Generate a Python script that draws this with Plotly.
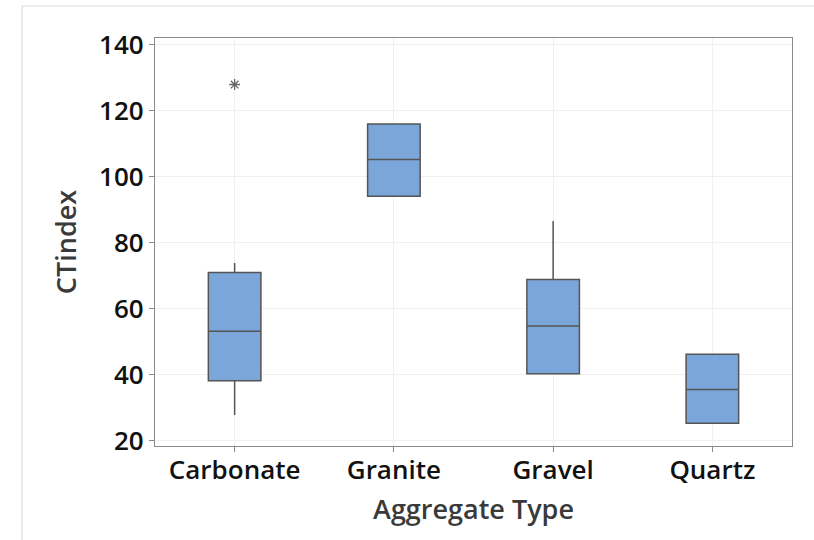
import plotly.graph_objects as go

# Summary statistics of CT index per aggregate type
aggregate_types = ["Carbonate", "Granite", "Gravel", "Quartz"]
lower_whisker = [27.8, 94.1, 40.3, 25.3]
q1_values = [38.2, 94.1, 40.3, 25.3]
median_values = [53.2, 105.3, 54.8, 35.5]
q3_values = [71.0, 116.0, 68.9, 46.2]
upper_whisker = [73.9, 116.0, 86.6, 46.2]

# Outlying observations
outlier_types = ["Carbonate"]
outlier_values = [128.0]

y_ticks = [20, 40, 60, 80, 100, 120, 140]

fig = go.Figure()

fig.add_trace(go.Box(
    x=aggregate_types,
    q1=q1_values,
    median=median_values,
    q3=q3_values,
    lowerfence=lower_whisker,
    upperfence=upper_whisker,
    fillcolor="#7BA6DA",
    line=dict(color="#555555", width=1.5),
    width=0.33,
    whiskerwidth=0,
    boxpoints=False,
    showlegend=False,
    hoverinfo="skip",
))

fig.add_trace(go.Scatter(
    x=outlier_types,
    y=outlier_values,
    mode="markers",
    marker=dict(symbol="asterisk-open", size=9, color="#666666",
                line=dict(color="#666666", width=1.3)),
    showlegend=False,
))

tick_font = dict(family="Open Sans", size=26, color="#111111", weight=600)
title_font = dict(family="Open Sans", size=27, color="#3a3a3a", weight=600)

fig.update_layout(
    width=814,
    height=540,
    margin=dict(l=155, r=22, t=38, b=94),
    paper_bgcolor="white",
    plot_bgcolor="white",
    xaxis=dict(
        type="category",
        range=[-0.5, 3.5],
        showgrid=True,
        gridcolor="#f0f0f0",
        gridwidth=1,
        showline=True,
        linecolor="#8a8a8a",
        linewidth=1.2,
        mirror=True,
        ticks="outside",
        ticklen=5,
        tickcolor="#8a8a8a",
        tickfont=tick_font,
        ticklabelstandoff=-4,
        title=dict(text="Aggregate Type", font=title_font, standoff=13),
    ),
    yaxis=dict(
        range=[18.4, 142.1],
        tickvals=y_ticks,
        showgrid=True,
        gridcolor="#f0f0f0",
        gridwidth=1,
        zeroline=False,
        showline=True,
        linecolor="#8a8a8a",
        linewidth=1.2,
        mirror=True,
        ticks="outside",
        ticklen=5,
        tickcolor="#8a8a8a",
        tickfont=tick_font,
        title=dict(text="CTindex", font=title_font, standoff=14),
    ),
    shapes=[
        dict(type="line", xref="paper", yref="paper",
             x0=-0.2088, x1=1.04, y0=1.0784, y1=1.0784,
             line=dict(color="#dcdcdc", width=1.2)),
        dict(type="line", xref="paper", yref="paper",
             x0=-0.2088, x1=-0.2088, y0=1.0784, y1=-0.24,
             line=dict(color="#dcdcdc", width=1.2)),
    ],
)

fig.write_html("out.html")
